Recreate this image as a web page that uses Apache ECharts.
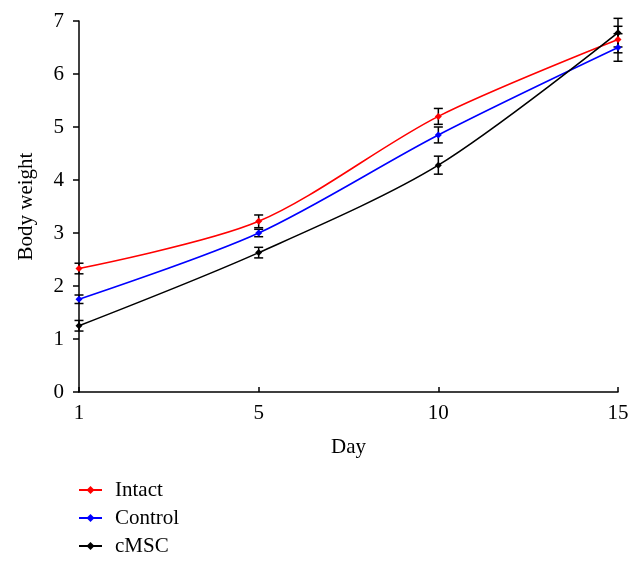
<!DOCTYPE html>
<html>
<head>
<meta charset="utf-8">
<script src="https://cdn.jsdelivr.net/npm/echarts@6/dist/echarts.min.js"></script>
<style>html,body{margin:0;padding:0;background:#fff;}#c{width:642px;height:565px;}</style>
</head>
<body>
<div id="c"></div>
<script>
const days = ['1', '5', '10', '15'];
const seriesNames = ['Intact', 'Control', 'cMSC'];
const colors = ['#ff0000', '#0000ff', '#000000'];
const intact = [2.33, 3.22, 5.2, 6.65];
const control = [1.75, 3.0, 4.85, 6.5];
const cmsc = [1.25, 2.63, 4.28, 6.78];
const intactErr = [0.1, 0.12, 0.15, 0.25];
const controlErr = [0.08, 0.07, 0.15, 0.26];
const cmscErr = [0.1, 0.1, 0.17, 0.27];
const yTicks = [0, 1, 2, 3, 4, 5, 6, 7];

const values = [intact, control, cmsc];
const errs = [intactErr, controlErr, cmscErr];
const FONT = '"Liberation Serif", "DejaVu Serif", serif';

const series = [];
values.forEach((vals, i) => {
  series.push({
    type: 'custom',
    name: seriesNames[i] + ' err',
    data: vals.map((v, k) => [k, v - errs[i][k], v + errs[i][k]]),
    z: 1,
    silent: true,
    renderItem: function (params, api) {
      const x = api.value(0);
      const lo = api.coord([x, api.value(1)]);
      const hi = api.coord([x, api.value(2)]);
      const w = 4.5;
      const st = { stroke: '#000', lineWidth: 1.5 };
      return {
        type: 'group',
        children: [
          { type: 'line', shape: { x1: lo[0], y1: lo[1], x2: hi[0], y2: hi[1] }, style: st },
          { type: 'line', shape: { x1: lo[0] - w, y1: lo[1], x2: lo[0] + w, y2: lo[1] }, style: st },
          { type: 'line', shape: { x1: hi[0] - w, y1: hi[1], x2: hi[0] + w, y2: hi[1] }, style: st }
        ]
      };
    }
  });
});
values.forEach((vals, i) => {
  series.push({
    type: 'line',
    name: seriesNames[i],
    data: vals,
    smooth: 0.3,
    symbol: 'diamond',
    symbolSize: 7,
    z: 3,
    lineStyle: { color: colors[i], width: 1.6 },
    itemStyle: { color: colors[i] }
  });
});

const chart = echarts.init(document.getElementById('c'));
chart.setOption({
  animation: false,
  textStyle: { fontFamily: FONT },
  grid: { left: 79, right: 24, top: 21, bottom: 173, containLabel: false },
  legend: {
    data: seriesNames,
    orient: 'vertical',
    left: 78,
    top: 479,
    padding: 0,
    itemGap: 6,
    itemWidth: 23,
    itemHeight: 10,
    textStyle: { fontFamily: FONT, fontSize: 21, color: '#000', lineHeight: 22, padding: [0, 0, 0, 8] }
  },
  xAxis: {
    type: 'category',
    data: days,
    boundaryGap: false,
    name: 'Day',
    nameLocation: 'middle',
    nameGap: 45,
    nameTextStyle: { fontFamily: FONT, fontSize: 21, color: '#000' },
    axisLine: { lineStyle: { color: '#000', width: 1.5 } },
    axisTick: { inside: true, length: 5, lineStyle: { color: '#000', width: 1.5 } },
    axisLabel: { fontFamily: FONT, fontSize: 21, color: '#000', margin: 11 },
    splitLine: { show: false }
  },
  yAxis: {
    type: 'value',
    min: yTicks[0],
    max: yTicks[yTicks.length - 1],
    interval: 1,
    name: 'Body weight',
    nameLocation: 'middle',
    nameGap: 42,
    nameTextStyle: { fontFamily: FONT, fontSize: 21, color: '#000' },
    axisLine: { show: true, lineStyle: { color: '#000', width: 1.5 } },
    axisTick: { show: true, length: 6, lineStyle: { color: '#000', width: 1.5 } },
    axisLabel: { fontFamily: FONT, fontSize: 21, color: '#000', margin: 15 },
    splitLine: { show: false }
  },
  series: series
});
</script>
</body>
</html>
